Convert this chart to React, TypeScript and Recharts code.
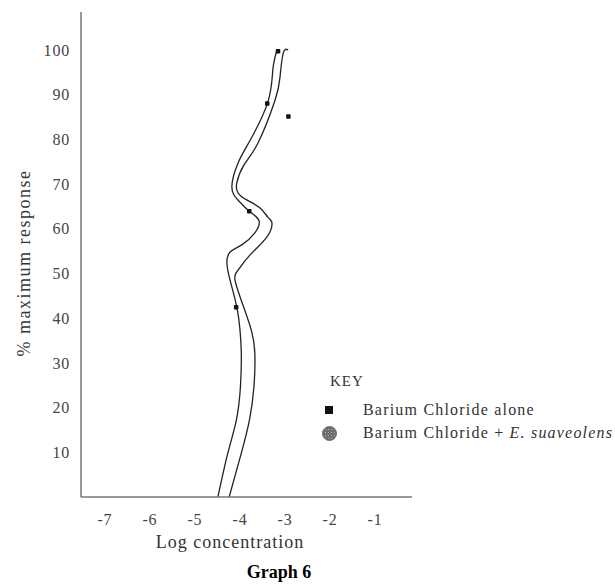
import { LineChart, Line, XAxis, YAxis } from 'recharts'

// response values (y) and log concentration (x)
const innerResp = [0, 9.8, 17.2, 24.6, 32.2, 37.4, 42.5, 48.5, 52.3, 54.8, 56.4, 59.1, 61.9, 64.0, 66.4, 69.4, 74.8, 79.7, 88.4, 95.6, 100]
const innerConc = [-4.49, -4.27, -4.08, -3.99, -3.97, -4.0, -4.07, -4.22, -4.29, -4.22, -3.96, -3.67, -3.58, -3.8, -4.04, -4.18, -4.04, -3.78, -3.38, -3.27, -3.18]

const outerResp = [0, 9.8, 17.2, 24.6, 32.2, 37.4, 43.4, 48.5, 50.8, 54.1, 58.2, 61.3, 62.6, 64.7, 66.4, 68, 70.3, 74.3, 79.2, 88.8, 94, 99.3, 100]
const outerConc = [-4.24, -3.97, -3.79, -3.69, -3.67, -3.75, -3.95, -4.11, -4.04, -3.78, -3.4, -3.29, -3.38, -3.56, -3.84, -4.04, -4.07, -3.91, -3.6, -3.22, -3.11, -3.04, -2.93]

const pointResp = [99.8, 88.1, 85.2, 64.0, 42.5]
const pointConc = [-3.16, -3.4, -2.93, -3.8, -4.09]

const respTicks = [10, 20, 30, 40, 50, 60, 70, 80, 90, 100]
const concTicks = [-7, -6, -5, -4, -3, -2, -1]

const toRows = (resp: number[], conc: number[]) => resp.map((r, i) => ({ resp: r, conc: conc[i] }))

const innerData = toRows(innerResp, innerConc)
const outerData = toRows(outerResp, outerConc)
const pointData = toRows(pointResp, pointConc)

const serif = '"Liberation Serif", "Times New Roman", serif'
const tickStyle = { fill: '#444', fontSize: 16, fontFamily: serif, letterSpacing: 0.8 }

const SquareDot = (props: any) => {
  const { cx, cy, index } = props
  return <rect key={`p${index}`} x={cx - 2} y={cy - 2} width={4.5} height={4.5} rx={0.8} fill="#111" />
}

export default function App() {
  return (
    <div style={{ position: 'absolute', left: 0, top: 0, width: 615, height: 585, background: '#fff', fontFamily: serif }}>
      <LineChart
        width={615}
        height={585}
        layout="vertical"
        margin={{ top: 12, right: 203, bottom: 58, left: 21 }}
      >
        <XAxis
          type="number"
          dataKey="conc"
          domain={[-7.53, -0.18]}
          ticks={concTicks}
          allowDataOverflow
          tickLine={false}
          tickMargin={11}
          axisLine={{ stroke: '#777', strokeWidth: 1.5 }}
          tick={tickStyle}
        />
        <YAxis
          type="number"
          dataKey="resp"
          domain={[0, 108.5]}
          ticks={respTicks}
          reversed
          allowDataOverflow
          width={60}
          tickLine={false}
          tickMargin={5}
          axisLine={{ stroke: '#777', strokeWidth: 1.5 }}
          tick={tickStyle}
        />
        <Line data={innerData} dataKey="conc" type="natural" stroke="#222" strokeWidth={1.3} dot={false} isAnimationActive={false} />
        <Line data={outerData} dataKey="conc" type="natural" stroke="#222" strokeWidth={1.3} dot={false} isAnimationActive={false} />
        <Line data={pointData} dataKey="conc" stroke="none" dot={SquareDot} isAnimationActive={false} />
      </LineChart>

      <div style={{ position: 'absolute', left: 24, top: 263, transform: 'translate(-50%, -50%) rotate(-90deg)', whiteSpace: 'nowrap', fontSize: 18, letterSpacing: 1.5, color: '#333' }}>
        % maximum response
      </div>
      <div style={{ position: 'absolute', left: 230, top: 542, transform: 'translate(-50%, -50%)', whiteSpace: 'nowrap', fontSize: 18, letterSpacing: 1, color: '#333' }}>
        Log concentration
      </div>
      <div style={{ position: 'absolute', left: 279, top: 572, transform: 'translate(-50%, -50%)', whiteSpace: 'nowrap', fontSize: 18, fontWeight: 'bold', color: '#000' }}>
        Graph 6
      </div>

      <div style={{ position: 'absolute', left: 330, top: 381, transform: 'translateY(-50%)', fontSize: 15, letterSpacing: 1, color: '#333' }}>KEY</div>
      <div style={{ position: 'absolute', left: 325, top: 410, transform: 'translateY(-50%)', display: 'flex', alignItems: 'center', whiteSpace: 'nowrap', fontSize: 16, letterSpacing: 1.2, color: '#333' }}>
        <span style={{ width: 8, height: 8, background: '#111', display: 'inline-block', marginRight: 30 }} />
        Barium Chloride alone
      </div>
      <div style={{ position: 'absolute', left: 322, top: 433, transform: 'translateY(-50%)', display: 'flex', alignItems: 'center', whiteSpace: 'nowrap', fontSize: 16, letterSpacing: 1.2, color: '#333' }}>
        <svg width={15} height={15} style={{ marginRight: 26 }}>
          <defs>
            <pattern id="speck" width={3} height={3} patternUnits="userSpaceOnUse">
              <rect width={3} height={3} fill="#6e6e6e" />
              <rect width={1} height={1} fill="#a8a8a8" />
            </pattern>
          </defs>
          <circle cx={7.5} cy={7.5} r={7} fill="url(#speck)" stroke="#555" strokeWidth={0.8} />
        </svg>
        <span>Barium Chloride + <i>E. suaveolens</i></span>
      </div>
    </div>
  )
}
